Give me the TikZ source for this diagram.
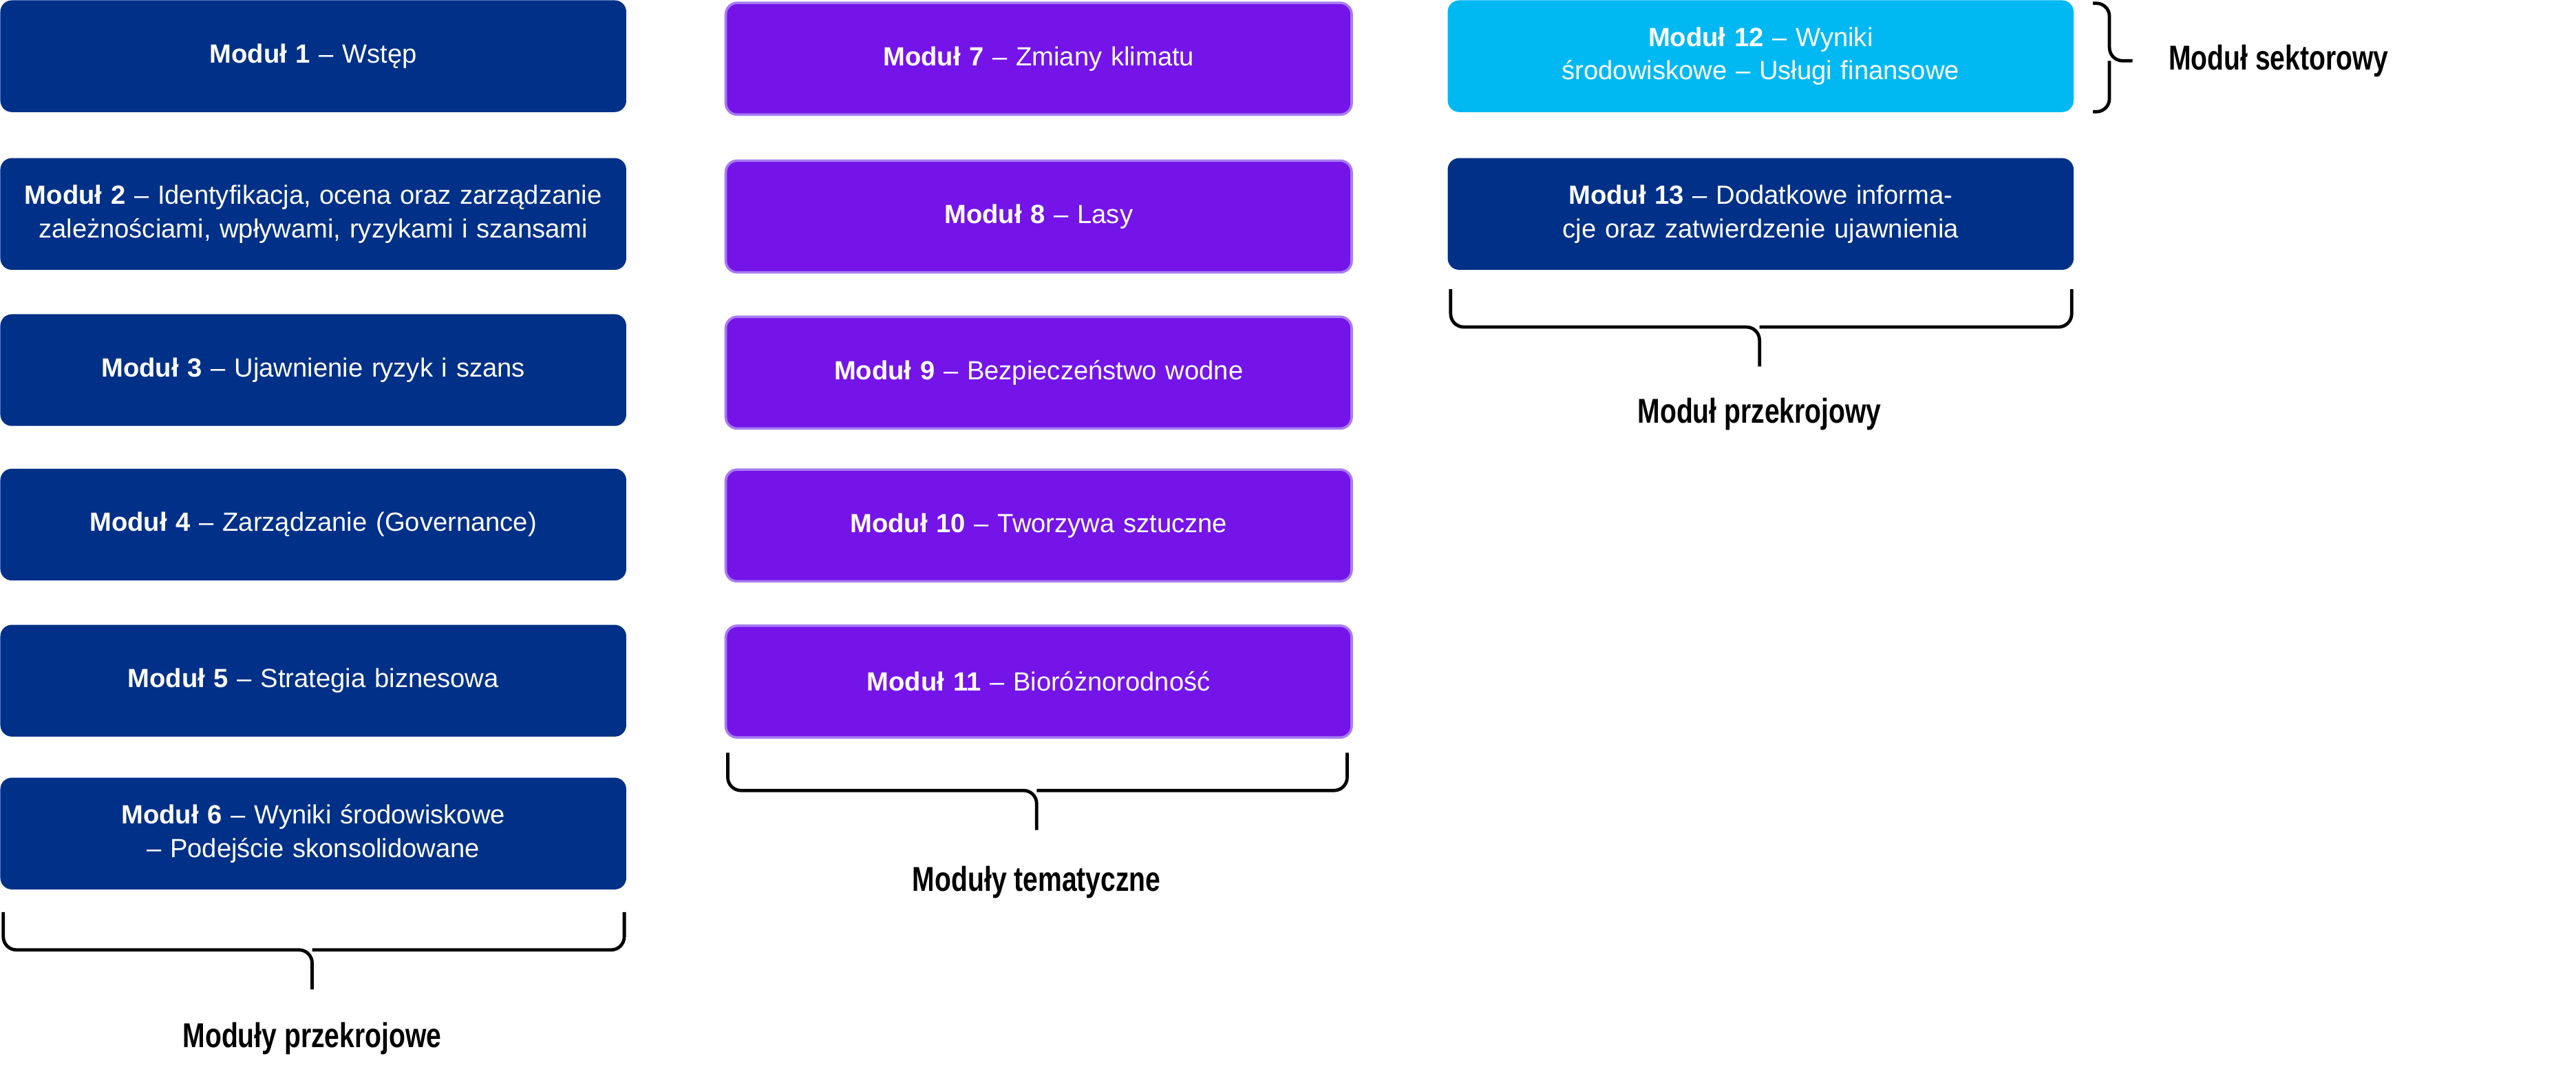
\documentclass[tikz,border=0pt]{standalone}
\usepackage{fontspec}
\setmainfont{Liberation Sans}
\usepackage{graphicx}
\definecolor{dblue}{HTML}{003087}
\definecolor{purp}{HTML}{7414E8}
\definecolor{purpb}{HTML}{A77BF0}
\definecolor{cyanb}{HTML}{00B9F2}
\begin{document}
\begin{tikzpicture}[x=1pt,y=-1pt,
 mod/.style={rounded corners=7pt,minimum width=381pt,minimum height=68pt,text width=360pt,align=center,text=white,font=\fontsize{16}{20.5}\selectfont,inner sep=0pt,anchor=north west},
 mb/.style={mod,fill=dblue},
 mp/.style={mod,fill=purp,draw=purpb,line width=1.5pt},
 mc/.style={mod,fill=cyanb},
 br/.style={draw=black,line width=2pt,rounded corners=8pt},
 lab/.style={font=\fontsize{21}{24}\selectfont\bfseries}]
\useasboundingbox (0,0) rectangle (1568,660);
\node[mb] (m1) at (0,0) {\textbf{Moduł 1} – Wstęp};
\node[mb] (m2) at (0,96) {\textbf{Moduł 2} – Identyfikacja, ocena oraz zarządzanie zależnościami, wpływami, ryzykami i szansami};
\node[mb] (m3) at (0,191) {\textbf{Moduł 3} – Ujawnienie ryzyk i szans};
\node[mb] (m4) at (0,285) {\textbf{Moduł 4} – Zarządzanie (Governance)};
\node[mb] (m5) at (0,380) {\textbf{Moduł 5} – Strategia biznesowa};
\node[mb] (m6) at (0,473) {\textbf{Moduł 6} – Wyniki środowiskowe – Podejście skonsolidowane};
\node[mp] (m7) at (441,1) {\textbf{Moduł 7} – Zmiany klimatu};
\node[mp] (m8) at (441,97) {\textbf{Moduł 8} – Lasy};
\node[mp] (m9) at (441,192) {\textbf{Moduł 9} – Bezpieczeństwo wodne};
\node[mp] (m10) at (441,285) {\textbf{Moduł 10} – Tworzywa sztuczne};
\node[mp] (m11) at (441,380) {\textbf{Moduł 11} – Bioróżnorodność};
\node[mc] (m12) at (881,0) {\textbf{Moduł 12} – Wyniki środowiskowe – Usługi finansowe};
\node[mb] (m13) at (881,96) {\textbf{Moduł 13} – Dodatkowe informacje oraz zatwierdzenie ujawnienia};
% braces
\draw[br] (2,555)--(2,578)--(190,578)--(190,602);
\draw[br] (380,555)--(380,578)--(190,578);
\node[lab] (l1) at (190,632) {\scalebox{0.78}[1]{Moduły przekrojowe}};
\draw[br] (443,458)--(443,481)--(631,481)--(631,505);
\draw[br] (820,458)--(820,481)--(631,481);
\node[lab] (l2) at (631,537) {\scalebox{0.78}[1]{Moduły tematyczne}};
\draw[br] (883,176)--(883,199)--(1071,199)--(1071,223);
\draw[br] (1261,176)--(1261,199)--(1071,199);
\node[lab] (l3) at (1071,252) {\scalebox{0.78}[1]{Moduł przekrojowy}};
\draw[br] (1274,2)--(1284,2)--(1284,37)--(1298,37);
\draw[br] (1274,68)--(1284,68)--(1284,37);
\node[lab] (l4) at (1387,37) {\scalebox{0.78}[1]{Moduł sektorowy}};
\end{tikzpicture}
\end{document}
